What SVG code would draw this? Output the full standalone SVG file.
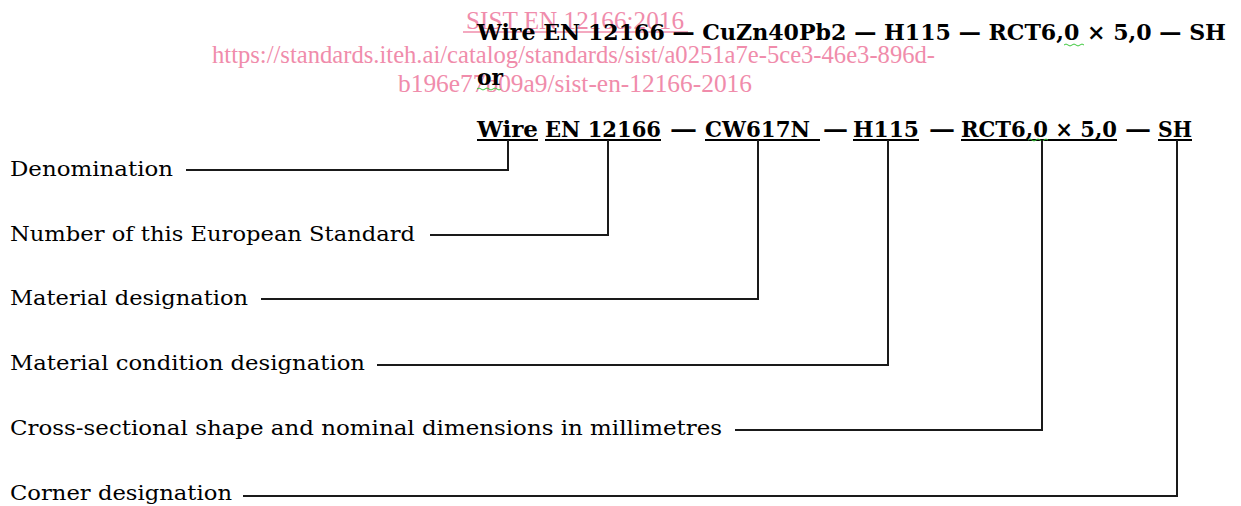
<svg xmlns="http://www.w3.org/2000/svg" width="1241" height="506" viewBox="0 0 1241 506">
<style>
.wm{font-family:"Liberation Serif","Times New Roman",serif;font-size:25px;fill:#f08cab}
.b{font-family:"DejaVu Serif",serif;font-weight:bold;font-size:23px;fill:#000}
.lab{font-family:"DejaVu Serif",serif;font-size:20.5px;fill:#000}
.ul{stroke:#000;stroke-width:2}
.conn{fill:none;stroke:#1a1a1a;stroke-width:2}
.sq{fill:none;stroke:#3cc83c;stroke-width:1}
</style>
<rect width="1241" height="506" fill="#fff"/>
<g id="watermark">
<text class="wm" x="466" y="29" textLength="218" lengthAdjust="spacingAndGlyphs">SIST EN 12166:2016</text>
<line x1="463" y1="32" x2="688" y2="32" stroke="#f08cab" stroke-width="1.5"/>
<text class="wm" x="212" y="63" textLength="723" lengthAdjust="spacingAndGlyphs">https://standards.iteh.ai/catalog/standards/sist/a0251a7e-5ce3-46e3-896d-</text>
<text class="wm" x="398" y="92" textLength="354" lengthAdjust="spacingAndGlyphs">b196e77b09a9/sist-en-12166-2016</text>
</g>
<g id="line1">
<text class="b" x="477" y="40" textLength="749" lengthAdjust="spacingAndGlyphs">Wire EN 12166 — CuZn40Pb2 — H115 — RCT6,0 × 5,0 — SH</text>
<path class="sq" d="M1064 45 q2 -2 4 0 t4 0 t4 0 t4 0 t4 0"/>
</g>
<g id="or">
<text class="b" x="477" y="85" textLength="26" lengthAdjust="spacingAndGlyphs">or</text>
<path class="sq" d="M477 89 q2 -2 4 0 t4 0 t4 0 t4 0 t4 0 t4 0"/>
</g>
<g id="line2">
<text class="b" x="477" y="137" textLength="61" lengthAdjust="spacingAndGlyphs">Wire</text>
<text class="b" x="545" y="137" textLength="116" lengthAdjust="spacingAndGlyphs">EN 12166</text>
<text class="b" x="670" y="137" textLength="27" lengthAdjust="spacingAndGlyphs">—</text>
<text class="b" x="705" y="137" textLength="105" lengthAdjust="spacingAndGlyphs">CW617N</text>
<text class="b" x="823" y="137" textLength="25" lengthAdjust="spacingAndGlyphs">—</text>
<text class="b" x="853" y="137" textLength="66" lengthAdjust="spacingAndGlyphs">H115</text>
<text class="b" x="929" y="137" textLength="26" lengthAdjust="spacingAndGlyphs">—</text>
<text class="b" x="961" y="137" textLength="156" lengthAdjust="spacingAndGlyphs">RCT6,0 × 5,0</text>
<text class="b" x="1125" y="137" textLength="26" lengthAdjust="spacingAndGlyphs">—</text>
<text class="b" x="1158" y="137" textLength="34" lengthAdjust="spacingAndGlyphs">SH</text>
<line class="ul" x1="477" y1="140" x2="538" y2="140"/>
<line class="ul" x1="545" y1="140" x2="661" y2="140"/>
<line class="ul" x1="705" y1="140" x2="820" y2="140"/>
<line class="ul" x1="853" y1="140" x2="919" y2="140"/>
<line class="ul" x1="961" y1="140" x2="1117" y2="140"/>
<line class="ul" x1="1158" y1="140" x2="1192" y2="140"/>
<path class="sq" d="M1028 140 q2 -2 4 0 t4 0 t4 0 t4 0 t4 0"/>
</g>
<g id="denomination"><text class="lab" x="10" y="176" textLength="163" lengthAdjust="spacingAndGlyphs">Denomination</text></g>
<g id="number"><text class="lab" x="10" y="241" textLength="405" lengthAdjust="spacingAndGlyphs">Number of this European Standard</text></g>
<g id="material"><text class="lab" x="10" y="305" textLength="238" lengthAdjust="spacingAndGlyphs">Material designation</text></g>
<g id="condition"><text class="lab" x="10" y="370" textLength="355" lengthAdjust="spacingAndGlyphs">Material condition designation</text></g>
<g id="cross"><text class="lab" x="10" y="435" textLength="712" lengthAdjust="spacingAndGlyphs">Cross-sectional shape and nominal dimensions in millimetres</text></g>
<g id="corner"><text class="lab" x="10" y="500" textLength="222" lengthAdjust="spacingAndGlyphs">Corner designation</text></g>
<g id="connectors">
<polyline class="conn" points="186,170 508,170 508,140"/>
<polyline class="conn" points="430,235 608,235 608,140"/>
<polyline class="conn" points="261,299 758,299 758,140"/>
<polyline class="conn" points="377,365 888,365 888,140"/>
<polyline class="conn" points="735,430 1042,430 1042,140"/>
<polyline class="conn" points="243,496 1177,496 1177,140"/>
</g>
</svg>
